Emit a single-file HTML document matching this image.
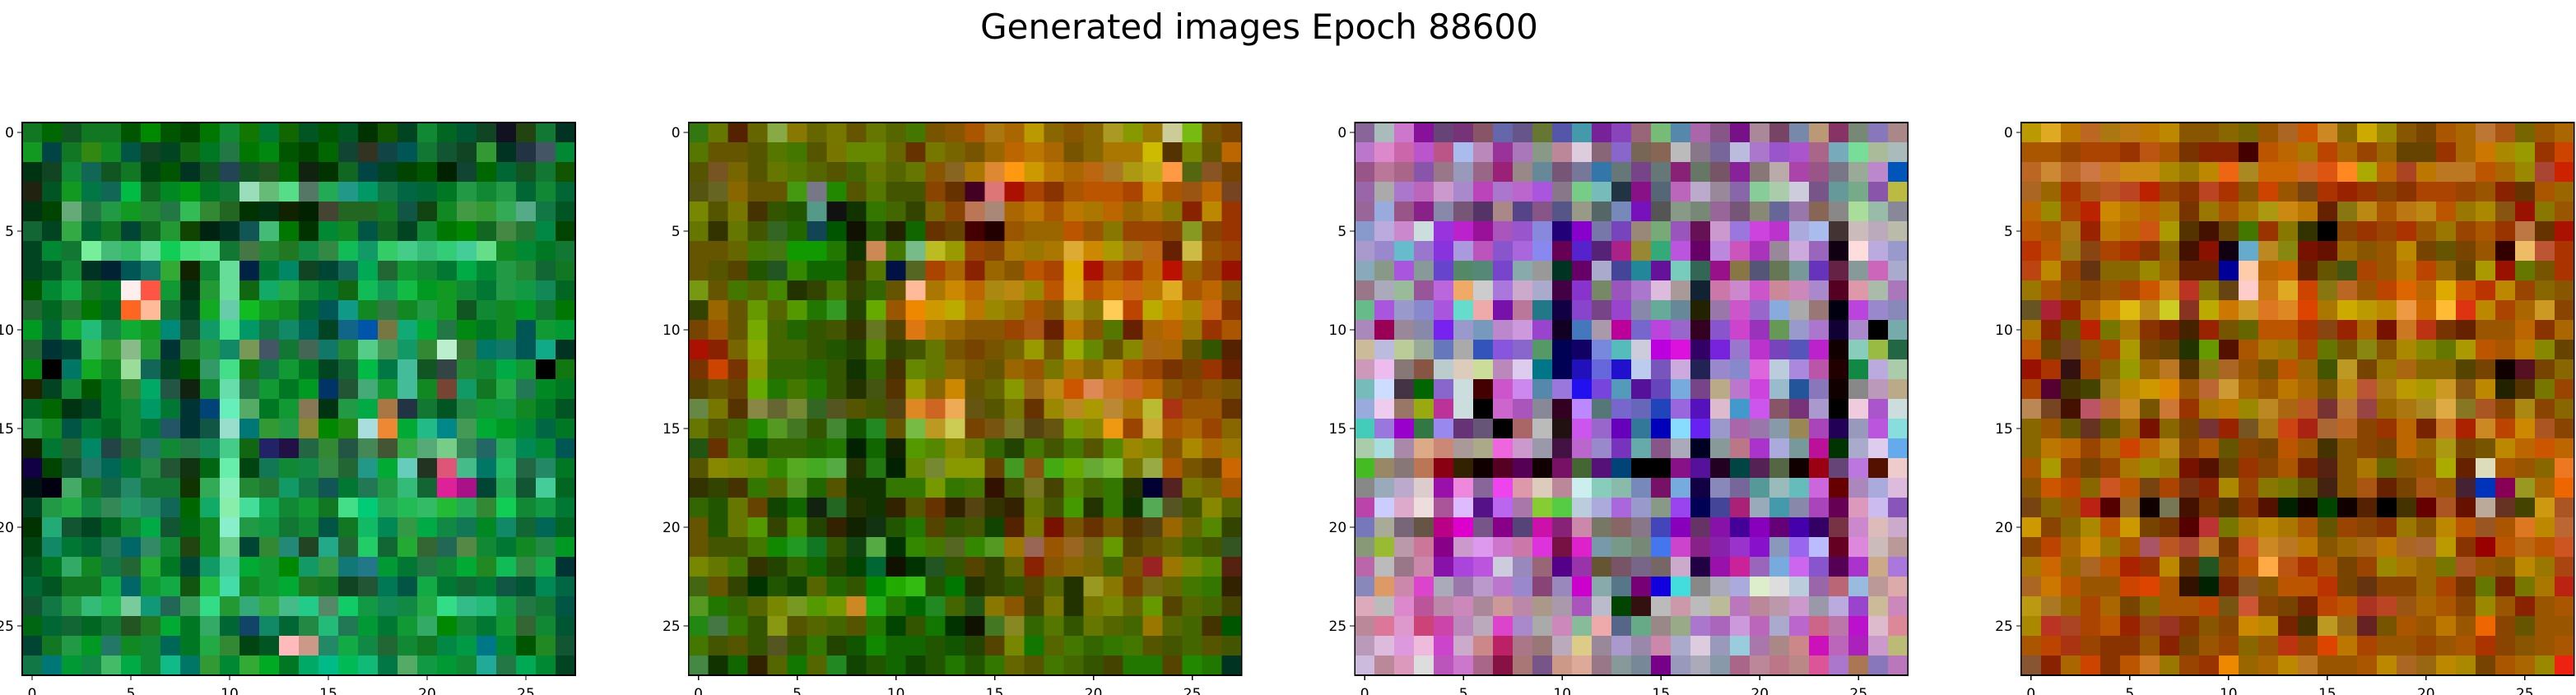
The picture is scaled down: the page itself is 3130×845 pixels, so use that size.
<!DOCTYPE html>
<html><head><meta charset="utf-8"><style>
html,body{margin:0;padding:0;background:#fff;width:3130px;height:845px;overflow:hidden}
svg{display:block}
text{font-family:"DejaVu Sans","Liberation Sans",sans-serif;fill:#000}
</style></head><body>
<svg id="fig" width="3130" height="845" viewBox="0 0 3130 845" xmlns="http://www.w3.org/2000/svg" shape-rendering="crispEdges">
<text x="1530" y="47" font-size="42" text-anchor="middle">Generated images Epoch 88600</text>
</svg>
<script>
const panelTitles = ["image-1","image-2","image-3","image-4"];
const tickValues = [0,5,10,15,20,25];
const tickLabels = ["0","5","10","15","20","25"];
const image1 = [
"172 060 152 172 172 050 080 050 040 070 183 170 073 160 052 050 052 030 150 042 183 062 053 142 112 241 173 032",
"192 044 172 381 182 054 142 042 161 072 274 070 081 050 040 060 143 332 144 055 173 153 142 393 032 234 456 083",
"031 142 183 165 152 172 041 050 032 152 245 152 252 060 121 030 162 044 042 040 050 020 143 060 063 152 173 150",
"221 052 192 074 165 0b4 162 082 091 072 173 9db 6b7 5d8 576 2a5 298 096 174 064 063 072 294 183 294 063 183 063",
"031 040 6a7 274 294 192 283 274 3b5 383 262 030 031 120 020 443 262 262 172 154 141 182 494 393 3a5 5a8 174 052",
"163 042 3a4 063 172 043 162 293 140 021 032 155 4b7 070 030 083 182 054 162 042 183 070 080 162 484 273 084 040",
"042 083 173 7e9 4b7 3b6 6d9 1c5 4d7 5d8 173 474 283 272 184 384 1b5 196 3c6 4c8 3b7 3c7 4c9 6d8 182 083 072 173",
"042 052 183 032 023 055 176 3a3 120 183 6d9 024 073 086 142 043 165 0a5 263 193 183 073 0a4 083 294 283 163 172",
"050 083 1a4 172 072 fee f54 193 031 293 6d9 161 1a6 2a4 183 073 161 1b5 195 1b4 092 192 183 073 294 194 185 062",
"263 062 273 070 062 f62 fb9 173 042 1a2 6ca 1b2 192 182 063 055 198 182 374 182 294 192 152 183 182 092 173 070",
"092 063 1a3 2b7 184 1a3 192 087 153 196 4d8 096 174 186 065 042 168 05a 774 1a7 0a3 274 081 072 182 055 193 093",
"263 033 043 3b5 393 8b8 293 033 273 294 186 795 456 173 465 176 283 5c8 495 196 383 bec 373 076 176 055 1a8 032",
"081 000 076 1a2 182 9d9 165 042 050 396 4d8 171 174 193 072 042 163 0b4 074 4b9 152 344 283 183 0a4 193 000 171",
"220 042 183 050 072 383 0a6 254 121 183 6da 274 193 072 092 036 253 4a7 193 4b9 182 743 196 172 2a4 275 082 072",
"062 060 031 042 072 183 096 073 033 047 6eb 5a6 072 193 875 031 294 0a4 a74 234 173 052 284 193 194 182 072 052",
"294 182 054 073 062 183 073 256 033 154 9dc 077 393 294 883 080 281 add e83 0a3 2b8 088 495 0a3 092 083 064 072",
"120 073 263 086 244 263 276 183 274 185 4c8 161 226 214 264 383 254 485 453 3a4 5a7 7c8 385 266 2a5 085 083 055",
"104 040 153 276 065 073 284 253 131 061 6ea 041 175 183 184 384 263 298 0a3 6cb 232 d57 4b8 076 2b6 264 286 072",
"011 001 4a6 172 164 286 173 173 130 3a5 8eb 283 273 196 174 155 073 275 294 3b7 163 d29 a18 043 2a5 153 4c9 062",
"042 294 2a4 184 385 296 286 165 060 1a6 8ea 4d9 1a5 183 193 172 4d8 0c7 2a5 2b5 3b6 2b3 2a5 383 1c5 183 194 073",
"030 2a7 153 042 062 183 0a4 153 061 182 8ec 294 194 173 183 054 172 1b6 085 394 0a4 184 175 082 186 163 065 062",
"041 186 073 063 275 066 386 183 241 182 6c8 043 383 287 242 2a8 263 2c6 163 2a3 363 265 584 183 073 182 284 092",
"052 072 3a6 182 174 263 2a3 072 043 196 4c9 0a3 193 080 196 394 177 278 093 073 274 183 0a3 282 1b5 384 1a4 033",
"063 052 172 172 1a4 066 193 1a4 151 2b4 4da 182 193 0a3 272 172 142 253 075 054 1a4 073 163 073 154 053 085 064",
"153 174 294 3b7 2b5 7c9 197 265 395 3d8 293 3a7 3a4 4b8 2c8 586 1c6 194 185 184 2a4 3d8 3b8 2b7 194 274 173 054",
"061 063 163 062 173 252 272 0a3 072 3a6 063 146 186 063 284 2b7 275 093 073 193 3a6 080 183 073 193 363 183 053",
"043 172 294 092 276 182 183 065 072 2a4 383 041 052 fbb c98 286 1a4 184 263 183 172 084 094 078 083 050 282 153",
"174 077 093 184 4b6 0a4 183 1b8 076 393 083 3a3 0a2 072 0a6 0b8 0b5 1b7 074 5a6 194 093 183 2a9 274 0a5 083 042"
];
const image2 = [
"371 670 520 660 8a4 870 660 770 650 670 560 470 750 850 a50 a71 a60 b90 860 850 860 a92 890 970 cc9 7b1 750 740",
"570 650 650 550 570 470 550 770 680 680 660 630 770 760 750 960 b60 b70 a60 750 860 a70 a70 cb0 530 780 650 b60",
"550 752 760 550 670 570 560 550 460 670 560 670 850 862 a70 d83 f91 c90 b70 a60 b61 a72 a91 ba1 f94 561 852 740",
"551 662 860 650 650 491 778 280 550 570 450 450 840 630 402 d77 a10 a40 830 a50 b50 b50 a40 c80 a50 951 b60 742",
"780 550 770 430 350 250 598 111 130 370 460 340 760 840 b75 a87 a60 b70 a50 b70 a70 b60 960 a70 870 820 b80 930",
"670 330 670 450 362 260 145 050 110 250 220 160 630 640 400 200 950 960 960 b50 950 870 940 940 840 892 840 930",
"650 650 660 470 471 190 190 270 130 c85 470 7b8 bb2 990 940 840 a70 970 a70 da3 c80 a90 a71 b61 620 cb4 950 940",
"650 550 540 250 252 380 160 160 330 570 014 562 a40 a60 820 960 850 b50 a40 da0 a10 a50 a30 b60 b10 960 940 910",
"791 650 470 560 480 230 340 470 340 360 650 fb9 a70 c80 b60 a81 b81 980 b50 da1 b50 c70 c61 b70 da2 a50 b60 850",
"340 960 650 690 560 590 270 392 240 6a0 950 e80 c90 ba0 b70 980 970 a50 850 a91 870 fc5 b40 ba0 c80 a80 c61 830",
"740 950 650 7a0 460 260 350 450 330 672 540 d71 a70 960 850 850 940 a51 620 b70 850 570 620 a60 b60 970 930 a50",
"a10 820 760 8a0 460 460 350 250 240 580 340 450 670 750 740 750 760 990 750 9a0 680 650 880 a61 a60 650 350 520",
"730 c40 730 890 360 360 260 350 130 360 430 680 670 860 750 650 960 950 770 a70 860 a80 a50 940 730 740 930 620",
"540 650 640 6a0 270 470 270 350 230 451 530 990 860 c80 650 660 890 961 b81 c50 d85 c72 c62 b60 850 840 850 750",
"684 770 530 884 663 783 362 552 550 450 541 d82 c62 ea5 651 550 770 630 980 b82 a90 b83 a70 bb3 a31 950 950 630",
"670 550 460 280 592 472 350 483 150 282 650 7b4 b92 cc5 740 751 772 541 651 790 880 e91 940 ca3 a50 a60 940 860",
"251 630 470 150 360 360 260 270 020 160 120 590 580 880 670 360 240 470 450 470 550 580 980 880 850 a80 a60 970",
"550 880 780 680 380 5a2 4a2 5a4 230 271 020 680 783 890 890 640 492 851 4a1 6a0 6a3 7b3 770 9a4 a50 750 640 c60",
"330 340 430 370 560 592 260 550 130 130 370 370 790 370 470 310 450 772 440 580 460 370 230 003 522 770 760 a50",
"360 250 670 640 140 160 121 262 230 130 320 550 630 320 541 330 320 670 450 490 230 370 130 5a5 552 450 880 560",
"650 250 670 590 340 480 240 320 120 131 250 270 540 350 450 140 520 770 710 750 630 750 530 541 960 660 580 340",
"650 450 450 470 180 292 172 350 141 5a4 030 380 470 562 380 592 970 965 950 962 761 690 540 650 660 460 450 352",
"780 670 470 330 240 360 160 240 040 063 110 030 252 350 540 340 660 820 850 860 760 460 750 922 970 780 580 521",
"461 650 340 030 250 140 560 260 350 080 2a0 3b1 250 070 230 340 350 540 560 230 992 870 740 761 660 470 370 320",
"592 270 360 560 780 792 590 790 c82 2a1 270 060 282 460 251 870 850 440 770 230 770 780 660 690 540 560 460 440",
"281 474 370 350 891 550 560 460 550 270 040 350 170 030 110 472 882 360 570 350 670 560 460 970 560 460 430 050",
"470 450 550 350 552 350 370 240 150 180 160 160 250 150 240 540 780 170 560 470 360 370 470 550 450 460 550 450",
"484 130 160 320 560 170 560 282 140 250 160 140 250 270 250 370 660 550 470 460 350 440 270 270 540 280 270 032"
];
const image3 = [
"869 abb c7c 819 647 737 856 66a 658 673 55a 49a 729 84b 967 7b7 58a a6a 858 718 a89 746 78a b97 836 787 87b a88",
"b7c d8c c6a b5c b58 abe b8b 939 a7b 898 b89 dcd 867 86c 765 865 bbb 878 769 bbd a7c 95c a5c a68 7ab 7d9 ab9 abb",
"958 b79 a68 85a 978 99b 968 927 988 689 757 779 37a 677 748 677 827 676 756 829 877 baa a4a 958 778 9a9 b8c 05b",
"96a aaa a7c b6b c9c a8c b4b a7c b6c a5d 878 7c8 7bb 234 818 567 b6b bac 989 86a 8c9 aca ccd 758 699 7a8 85a bb4",
"969 9ad 958 828 88a 757 536 a88 548 858 558 998 566 78b 71b 555 898 787 969 757 887 669 97a 865 888 ad9 9ba 889",
"89c bad c8c cdd 93d b2c 919 a5b 95c 88d 207 80c 77a 74b 987 7a7 95b 615 c9c 97d c4d b3c aad abe 433 cbb bab bba",
"a9c 98c 6bc 97c 83d a9d b5b 85c a6d 88e 605 52c 527 a28 983 3a7 b5d 606 b8d c5b a3b 989 cad 96b 101 fdd bad 99c",
"8ab 898 a5d 899 64c 586 587 74c 8aa 999 032 606 aac 449 289 619 7cb 365 918 874 557 675 799 63b 624 899 c6b aac",
"978 aab 9b9 959 b6d ea6 ccc a7d cac aac 404 83c 786 95b a7c dbd a99 123 c7a c8c c5c c89 c8b a8c 502 d9a aba a7b",
"6b8 a5d 99c 88c a5d 6dc eaa 71a b79 278 104 84c 748 94c 88a 6a9 689 220 97a c5c 96c 8ad aaa 977 001 b4d 98c 88b",
"a8b 905 989 88a 72e 99c 79b b8c c9d 94c 102 47b a9a b09 76c b4d 96c 302 85c c4c 93b 695 99c a7c 103 a8c 000 7aa",
"cb9 bbd bc9 9a9 67b aaa 35b 85d 86c 596 005 106 78d 5bb ccd b0d d1d 306 72d 97c b3c 74b 55b b2c 100 8cb 9b4 264",
"c9b ebe 877 854 bcc dcb cd9 b8b dce 078 005 21b 66d 21c bce 75b cad 225 98c 88c d6d bcd a8d b5a 200 184 bad aca",
"7bb cdf 434 060 86c cdd 400 c5c c8e 58a 97d 21e 74d 59b 519 64b 7ad 748 ba8 b7c c4d 9bc 259 87b 100 888 b9b ba8",
"9ad ece 976 9a1 b39 cdd 000 c6c a5b 889 302 b8f 577 76c 66b 24b 96d 51b dbc 49c c5e 856 737 a9c 000 ecd a5c cdd",
"4cb 97d 90c 374 98e 637 657 000 a66 bbb 211 c5e 96c 60b 379 00b 8df 62e 99c a6a 97a 89a 985 a4b 205 99b b5d 8dd",
"aca add a8a da8 c87 a99 aa8 e6d c9c 99a 414 b6c 98c 73b 6aa 858 aab 002 899 b78 a3c aad 799 b19 030 aac dce 6ae",
"4b2 986 877 b75 801 320 100 502 505 100 716 463 517 047 000 000 818 519 202 044 525 564 100 901 647 b7d 510 ecc",
"888 9ab bac dcc 91a e8d 869 e4e d9a dcb b89 cee 8cb 8ba 78b 716 7ad 104 88b 769 599 9bb 6bb c6d 600 a8b aad dbd",
"b4a ccf dac edd a59 dbf 518 b6e a7a 8c3 5c4 bcd aad a6d 99c 898 94e 005 449 a27 9ab 49a 88a a4b 605 d9b cbe 85b",
"77b aa9 767 654 b08 d0c 758 808 547 c1a 827 c8a 776 866 878 44b 80b 636 81a 409 80b 607 40a 306 734 c8c dbb cac",
"897 9b3 b9a c79 808 c9c d9e c7c c7a d3d 714 d2c 79a 798 787 47e c4c 828 82a 93c 81c 89b 96e bbf 602 d8d cbb b99",
"b6a bbb 978 c8a 81a a4d b5d ccd 98b 967 508 93a 653 756 768 766 cac 204 91a c29 96b 7ad c6e 85c 505 a3c ca8 a7d",
"88b d96 c8a d4c aab 97a b9c b7c 98c 847 98b c0c 8aa 578 707 10d 4dd 888 aab aad dec ddd bcd 96a b67 9bd b99 daa",
"dab bbb d8c b59 b8a c8b a89 c99 b8a a98 a9a a5b bbc 040 311 bbb c9a bbb bb9 b7b b89 b9a c9c 99a bad 94c cb9 c8b",
"b89 d79 d9c c47 c4a b8b bab d4c a8c aaa c8b 8b9 eaa 568 6a8 988 9a8 a7c a6b c9d b6b aac b6c c68 b7a b1c dbc d89",
"b9b dbd d9d ebd c4c cac c88 b26 a78 977 bab dc8 989 a9c 98a c8a aac dcd 99b 9cd a7a a88 c88 c1b b6b a2b c9c bb7",
"cbd b89 d9b ddd b5b c7c a68 814 a77 758 c98 da9 978 899 789 708 99b aab 89a a68 b89 b78 b88 d59 a7c a75 87b b7b"
];
const image4 = [
"b90 da2 b70 b62 a71 b71 b70 b80 850 850 860 760 950 a62 c50 c82 860 ca0 980 850 740 a50 a60 b73 a51 760 950 a60",
"a50 a50 940 a40 a40 930 b51 a50 730 820 820 400 b50 b60 a70 b40 a60 940 960 640 640 930 a60 c70 a80 990 930 c40",
"b62 c83 b62 c74 c72 c81 c81 a80 970 b80 e61 a82 c60 c60 c62 d51 f82 aa0 b60 a42 b70 b72 b72 b50 a60 980 a43 c20",
"a62 960 a30 a51 b52 b42 b20 940 830 b42 a30 850 c40 950 741 a30 920 930 840 830 a40 a40 940 950 820 630 a50 960",
"b60 980 a40 b20 c80 b70 b60 a70 730 970 a50 a70 a91 c81 b70 620 871 b81 a50 b71 b81 b50 970 a80 851 910 870 950",
"b50 a50 a71 920 b70 b60 c51 a90 530 410 640 470 930 870 330 000 840 930 940 a30 950 970 940 a50 930 b74 630 a10",
"b30 b50 971 841 a40 a30 830 860 410 810 101 6ac b82 881 710 610 960 850 950 b80 740 650 740 950 300 eb6 b53 a30",
"b41 b80 940 631 860 860 980 960 620 620 009 fca b60 c60 620 650 451 a40 950 b70 b40 960 640 a90 910 670 750 a30",
"970 a50 850 840 950 a40 c50 c81 b32 870 641 fcc c71 da2 c40 871 b62 950 b40 d60 b60 da0 c50 b30 b80 940 860 850",
"652 a23 920 a60 c80 db1 b81 cc2 832 ba0 c70 c92 d72 d82 d40 a70 ca0 b90 b80 e94 c60 fb3 d31 b80 a40 a60 c92 840",
"a70 820 650 b20 770 a70 830 720 420 920 750 660 b50 b50 a30 841 920 a60 710 c72 b31 730 620 950 950 b60 830 a60",
"b50 640 742 850 a40 a90 740 640 230 690 510 a50 a70 970 a40 670 750 881 850 a80 880 670 a90 b50 a50 b70 880 640",
"910 a30 311 940 860 990 960 b72 530 871 a62 950 750 b50 960 450 b92 740 970 a61 860 860 540 740 100 512 740 860",
"a40 503 430 440 971 b80 c90 d80 950 b63 c93 a60 950 b70 a60 750 b81 b53 a71 b90 a90 c92 851 b80 220 530 770 940",
"b85 742 410 b56 b63 c82 750 c73 930 a70 b70 980 b82 a61 b52 733 b73 944 960 a71 a82 da4 872 a52 840 a81 840 860",
"860 950 650 632 650 960 710 860 740 733 920 752 a71 c41 a21 a63 b62 840 930 b60 720 c72 a20 c82 b40 c80 a52 840",
"860 b70 b60 940 a60 c40 b60 b81 840 a50 650 840 740 b50 950 430 850 840 740 b60 960 a91 740 750 b80 b60 c50 b60",
"a50 a90 940 740 940 a70 980 970 710 510 640 930 840 a50 720 521 850 a70 660 850 950 aa0 620 ddb a50 950 860 e72",
"850 c50 b40 860 c52 b50 741 a40 731 820 a80 940 870 770 650 421 850 a51 620 740 a51 950 423 03b 805 992 a60 e60",
"741 860 950 b21 500 962 100 775 410 730 530 830 510 020 100 040 100 520 000 430 600 a52 610 ba9 632 440 c91 a52",
"c90 840 860 a80 b50 c90 740 730 500 b33 770 a70 b80 a70 a50 650 940 840 830 970 850 b80 b50 952 a50 d72 b80 b63",
"840 b40 a60 c80 970 a50 a56 b52 a43 b72 730 c52 c82 b72 b70 850 960 a61 b70 a62 a63 b90 830 900 b50 b61 b50 c52",
"a70 c60 960 a62 b50 a20 930 b80 630 252 840 b50 fa4 b51 a30 a50 740 940 980 a70 960 770 a52 950 850 b80 970 a41",
"a62 c70 b50 950 950 c40 d40 a50 310 020 720 852 850 b50 b50 b30 740 631 840 840 960 a40 730 670 720 770 a70 b21",
"b91 a72 960 a40 a60 740 860 a50 a50 b40 751 c53 840 740 720 b40 b50 a32 b42 951 a60 a50 840 980 950 820 950 a50",
"a80 b32 a42 a40 b50 920 941 932 830 850 840 c80 b80 720 430 b92 961 622 750 a50 950 b70 950 e60 840 650 950 950",
"a50 b40 a31 940 830 830 950 820 740 950 940 860 950 b31 940 d40 b70 a40 950 950 940 950 a50 a30 840 850 950 a50",
"853 820 a60 c40 830 b50 c72 970 940 930 e80 960 a60 b80 b72 950 950 a50 b80 a62 961 b80 a80 740 a50 a60 980 e21"
];
const images = [image1, image2, image3, image4];

const NS = "http://www.w3.org/2000/svg";
const svg = document.getElementById("fig");
const PANEL_LEFT = 27, PANEL_STEP = 809.6, PANEL_TOP = 149, PANEL_SIZE = 672;
function mk(tag, attrs, parent) {
  const e = document.createElementNS(NS, tag);
  for (const k in attrs) e.setAttribute(k, attrs[k]);
  parent.appendChild(e);
  return e;
}
images.forEach((rows, p) => {
  const left = PANEL_LEFT + p * PANEL_STEP;
  const n = rows.length;
  const cell = PANEL_SIZE / n;
  const xs = v => left + (v + 0.5) * cell;
  const ys = v => PANEL_TOP + (v + 0.5) * cell;
  const g = mk("g", {}, svg);
  
  
  rows.forEach((row, r) => {
    row.trim().split(/\s+/).forEach((c, ci) => {
      const rect = mk("rect", {x: (xs(ci) - cell/2).toFixed(2), y: (ys(r) - cell/2).toFixed(2), width: (cell + 0.6).toFixed(2), height: (cell + 0.6).toFixed(2), fill: "#" + c}, g);
      
      
    });
  });
  const frame = mk("rect", {x: left, y: PANEL_TOP, width: PANEL_SIZE, height: PANEL_SIZE, fill: "none", stroke: "#000", "stroke-width": 1.6}, g);
  
  
  tickValues.forEach((t, i) => {
    const yt = ys(t);
    const tl = mk("line", {x1: left - 6, x2: left, y1: yt, y2: yt, stroke: "#000", "stroke-width": 1.4}, g);
    
    
    const ty = mk("text", {x: left - 10, y: yt + 6, "font-size": 17, "text-anchor": "end"}, g);
    ty.textContent = tickLabels[i];
    
    
    const xt = xs(t);
    const bl = mk("line", {x1: xt, x2: xt, y1: PANEL_TOP + PANEL_SIZE, y2: PANEL_TOP + PANEL_SIZE + 6, stroke: "#000", "stroke-width": 1.4}, g);
    
    
    const tx = mk("text", {x: xt, y: PANEL_TOP + PANEL_SIZE + 28, "font-size": 17, "text-anchor": "middle"}, g);
    tx.textContent = tickLabels[i];
    
    
  });
});
</script>
</body></html>
